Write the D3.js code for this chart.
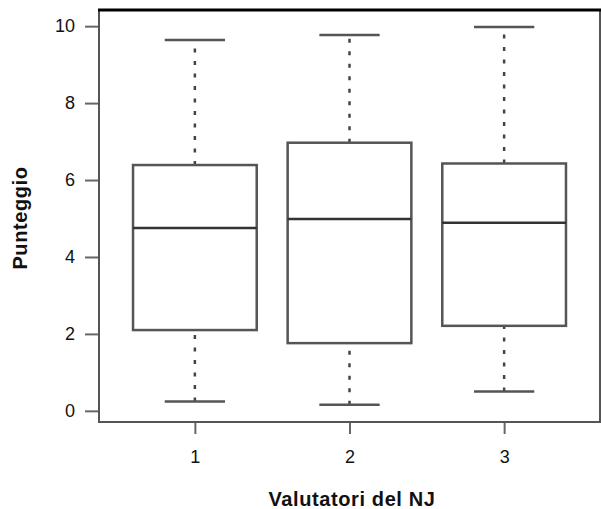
<!DOCTYPE html>
<html>
<head>
<meta charset="utf-8">
<script src="https://cdn.jsdelivr.net/npm/d3@7"></script>
<style>
  body { margin: 0; background: #fff; }
  text { font-family: "Liberation Sans", Arial, sans-serif; }
</style>
</head>
<body>
<svg id="chart" width="601" height="509"></svg>
<script>
// valutatori (groups) and five-number summaries
var groups = [1, 2, 3];
var whiskerLow = [0.24, 0.16, 0.50];
var q1 = [2.10, 1.76, 2.21];
var median = [4.75, 4.99, 4.89];
var q3 = [6.39, 6.97, 6.43];
var whiskerHigh = [9.64, 9.77, 9.98];
var yTicks = [0, 2, 4, 6, 8, 10];

var svg = d3.select("#chart");
/* note: "top" is taken by window.top, so use plot* names */
var plotLeft = 99, plotRight = 600, plotTop = 10, plotBottom = 422;

var x = d3.scaleLinear().domain([0.38, 3.62]).range([plotLeft, plotRight]);
var y = d3.scaleLinear().domain([-0.29, 10.42]).range([plotBottom, plotTop]);

var boxW = 0.8, capW = 0.39;

var data = groups.map(function (g, i) {
    return { g: g, lo: whiskerLow[i], q1: q1[i], med: median[i], q3: q3[i], hi: whiskerHigh[i] };
});

/* axes */
var yAxis = svg.append("g").attr("transform", "translate(" + plotLeft + ",0)")
    .call(d3.axisLeft(y).tickValues(yTicks).tickSize(14).tickPadding(10));
var xAxis = svg.append("g").attr("transform", "translate(0," + plotBottom + ")")
    .call(d3.axisBottom(x).tickValues(groups).tickSize(12).tickPadding(16).tickFormat(d3.format("d")));
[yAxis, xAxis].forEach(function (a) {
    a.select(".domain").remove();
    a.selectAll(".tick line").attr("stroke", "#666").attr("stroke-width", 2);
    a.selectAll(".tick text").attr("fill", "#111").style("font-size", "18px")
        .style("font-family", "'Liberation Sans', Arial, sans-serif");
});

/* whiskers (dotted) */
var box = svg.append("g");
box.selectAll(".wlo").data(data).enter().append("line")
    .attr("x1", function (d) { return x(d.g); }).attr("x2", function (d) { return x(d.g); })
    .attr("y1", function (d) { return y(d.lo); }).attr("y2", function (d) { return y(d.q1); })
    .attr("stroke", "#444").attr("stroke-width", 2.5).attr("stroke-dasharray", "4,8.5");
box.selectAll(".whi").data(data).enter().append("line")
    .attr("x1", function (d) { return x(d.g); }).attr("x2", function (d) { return x(d.g); })
    .attr("y1", function (d) { return y(d.q3); }).attr("y2", function (d) { return y(d.hi); })
    .attr("stroke", "#444").attr("stroke-width", 2.5).attr("stroke-dasharray", "4,8.5");

/* staples */
["lo", "hi"].forEach(function (k) {
    box.selectAll(".cap" + k).data(data).enter().append("line")
        .attr("x1", function (d) { return x(d.g - capW / 2); })
        .attr("x2", function (d) { return x(d.g + capW / 2); })
        .attr("y1", function (d) { return y(d[k]); }).attr("y2", function (d) { return y(d[k]); })
        .attr("stroke", "#555").attr("stroke-width", 2.5);
});

/* boxes */
box.selectAll("rect").data(data).enter().append("rect")
    .attr("x", function (d) { return x(d.g - boxW / 2); })
    .attr("width", function (d) { return x(d.g + boxW / 2) - x(d.g - boxW / 2); })
    .attr("y", function (d) { return y(d.q3); })
    .attr("height", function (d) { return y(d.q1) - y(d.q3); })
    .attr("fill", "#fff").attr("stroke", "#555").attr("stroke-width", 2.5);

/* medians */
box.selectAll(".med").data(data).enter().append("line")
    .attr("x1", function (d) { return x(d.g - boxW / 2); })
    .attr("x2", function (d) { return x(d.g + boxW / 2); })
    .attr("y1", function (d) { return y(d.med); }).attr("y2", function (d) { return y(d.med); })
    .attr("stroke", "#333").attr("stroke-width", 2.5);

/* frame: grey sides, black top */
svg.append("rect").attr("x", plotLeft).attr("y", plotTop)
    .attr("width", plotRight - plotLeft).attr("height", plotBottom - plotTop)
    .attr("fill", "none").attr("stroke", "#555").attr("stroke-width", 2);
svg.append("line").attr("x1", plotLeft - 1).attr("x2", plotRight + 1).attr("y1", plotTop).attr("y2", plotTop)
    .attr("stroke", "#000").attr("stroke-width", 3);

/* axis titles */
svg.append("text").attr("x", 352).attr("y", 506)
    .attr("text-anchor", "middle").style("font-size", "20px").style("font-weight", "bold")
    .style("letter-spacing", "0.6px").attr("fill", "#111").text("Valutatori del NJ");
svg.append("text").attr("transform", "translate(27,218) rotate(-90)")
    .attr("text-anchor", "middle").style("font-size", "20px").style("font-weight", "bold")
    .style("letter-spacing", "0.6px").attr("fill", "#111").text("Punteggio");
</script>
</body>
</html>
